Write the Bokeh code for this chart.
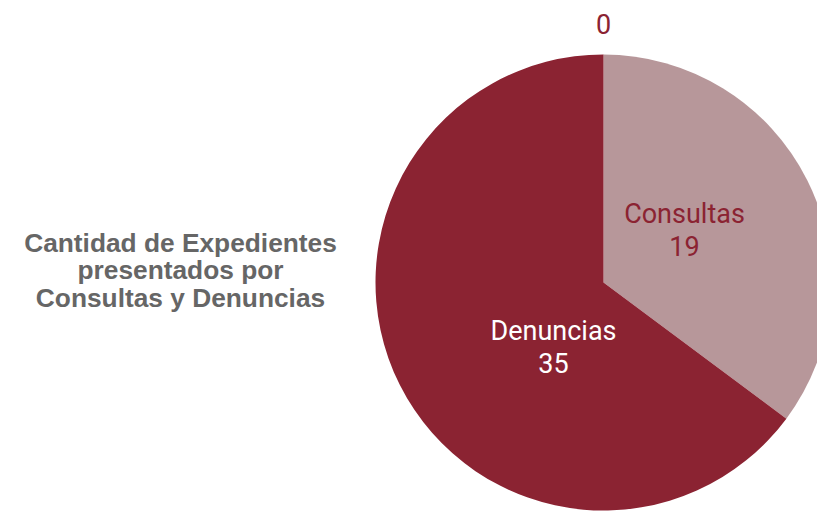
import numpy as np
from bokeh.plotting import figure
from bokeh.models import ColumnDataSource, Range1d, Label
from bokeh.core.properties import value
from bokeh.embed import file_html
from bokeh.resources import INLINE

categories = ["Consultas", "Denuncias", "Otros"]
values = [19, 35, 0]
colors = ["#B7979A", "#8B2332", "#8B2332"]
title_lines = ["Cantidad de Expedientes", "presentados por", "Consultas y Denuncias"]

W, H = 817, 513
cx, cy, R = 603, H - 282, 228

vals = np.array(values, dtype=float)
frac = vals / vals.sum()
cum = np.concatenate([[0], np.cumsum(frac)])
# clockwise from top
start = np.pi / 2 - cum[1:] * 2 * np.pi
end = np.pi / 2 - cum[:-1] * 2 * np.pi

p = figure(width=W, height=H, output_backend="svg", toolbar_location=None,
           x_range=Range1d(0, W), y_range=Range1d(0, H), min_border=0)
p.axis.visible = False
p.grid.visible = False
p.outline_line_color = None
p.background_fill_color = "white"
p.border_fill_color = "white"

mask = vals > 0
src = ColumnDataSource(dict(start=start[mask], end=end[mask],
                            color=[c for c, m in zip(colors, mask) if m]))
p.wedge(x=cx, y=cy, radius=R, start_angle="start", end_angle="end",
        fill_color="color", line_color=None, source=src)

# label placement offsets from pie centre (pixels)
label_offsets = {"Consultas": (81, 52), "Denuncias": (-50, -65)}
lab_x, lab_y, lab_t, lab_c = [], [], [], []
for i, (c, v) in enumerate(zip(categories, values)):
    if v > 0:
        dx, dy = label_offsets[c]
        lab_x.append(cx + dx)
        lab_y.append(cy + dy)
        lab_t.append(f"{c}\n{v}")
        lab_c.append("#8B2332" if c == "Consultas" else "white")
    else:
        lab_x.append(cx)
        lab_y.append(cy + R + 31)
        lab_t.append(f"{v}")
        lab_c.append("#8B2332")
lsrc = ColumnDataSource(dict(x=lab_x, y=lab_y, t=lab_t, c=lab_c))
p.text(x="x", y="y", text="t", text_color="c", source=lsrc,
       text_align="center", text_baseline="middle",
       text_font=value("Roboto"), text_font_size="27px", text_line_height=1.05)

for k, line in enumerate(title_lines):
    p.add_layout(Label(x=180, y=H - 242 - k * 27.5, text=line,
                       text_align="center", text_baseline="middle",
                       text_font="Liberation Sans", text_font_style="bold",
                       text_font_size="26.3px", text_color="#666666"))

open("out.html", "w").write(file_html(p, INLINE))
